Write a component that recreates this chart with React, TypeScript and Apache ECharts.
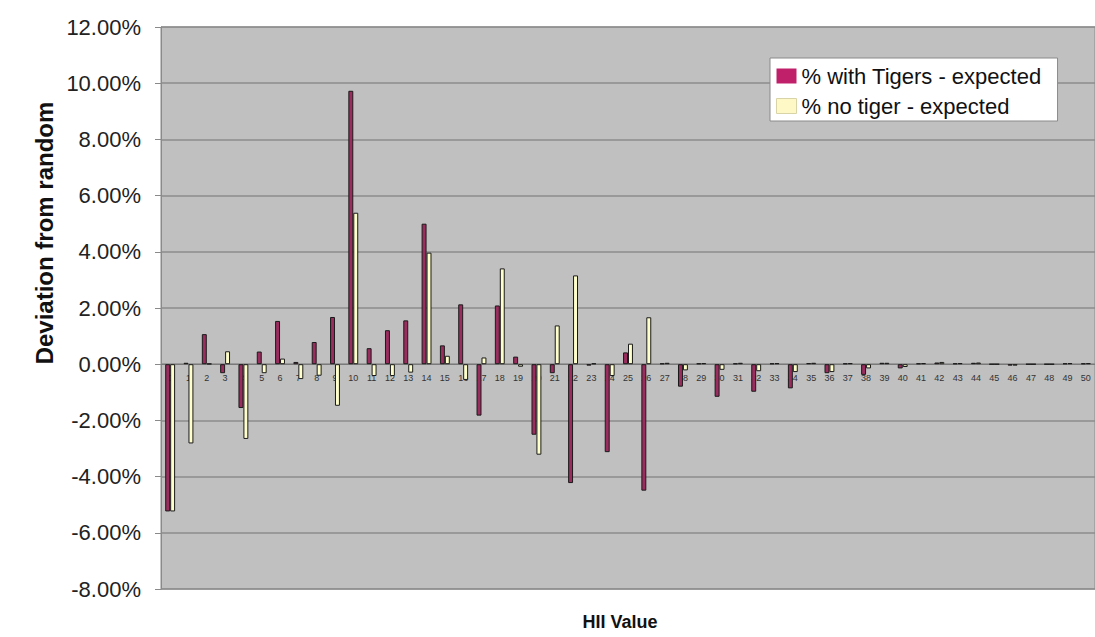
import React, { useEffect, useRef } from "react";
import * as echarts from "echarts";

const categories: string[] = [
  "0", "1", "2", "3", "4", "5", "6", "7", "8", "9",
  "10", "11", "12", "13", "14", "15", "16", "17", "18", "19",
  "20", "21", "22", "23", "24", "25", "26", "27", "28", "29",
  "30", "31", "32", "33", "34", "35", "36", "37", "38", "39",
  "40", "41", "42", "43", "44", "45", "46", "47", "48", "49", "50",
];

const withTigers: number[] = [
  -5.24, 0.05, 1.07, -0.32, -1.56, 0.45, 1.54, 0.08, 0.79, 1.68,
  9.73, 0.57, 1.21, 1.56, 5.0, 0.67, 2.13, -1.83, 2.09, 0.27,
  -2.51, -0.32, -4.23, -0.05, -3.13, 0.42, -4.5, 0.03, -0.8, 0.03,
  -1.16, 0.03, -0.98, 0.03, -0.86, 0.04, -0.32, 0.03, -0.38, 0.05,
  -0.15, 0.03, 0.06, 0.03, 0.05, 0, -0.05, 0, 0, 0.03, 0.03,
];

const noTiger: number[] = [
  -5.24, -2.82, 0.02, 0.46, -2.66, -0.32, 0.2, -0.53, -0.41, -1.48,
  5.39, -0.42, -0.42, -0.3, 3.97, 0.3, -0.56, 0.24, 3.41, -0.09,
  -3.22, 1.38, 3.16, 0.03, -0.42, 0.73, 1.67, 0.05, -0.22, 0.04,
  -0.2, 0.05, -0.25, 0.04, -0.28, 0.05, -0.28, 0.04, -0.15, 0.05,
  -0.1, 0.04, 0.08, 0.04, 0.06, 0, -0.05, 0, 0, 0.04, 0.04,
];

const seriesNames: string[] = ["% with Tigers - expected", "% no tiger - expected"];

const yTitle = "Deviation from random";
const xTitle = "HII Value";

const Y_MIN = -8;
const Y_MAX = 12;
const GRID_TOP = 27;
const GRID_HEIGHT = 562;

export default function App() {
  const ref = useRef<HTMLDivElement>(null);

  useEffect(() => {
    if (!ref.current) return;
    const chart = echarts.init(ref.current, null, { renderer: "svg" });
    const font = "'Liberation Sans', Arial, sans-serif";
    // distance from bottom of plot to zero line, so category labels sit on the zero line
    const zeroOffset = -(GRID_HEIGHT * (0 - Y_MIN)) / (Y_MAX - Y_MIN);
    chart.setOption({
      animation: false,
      backgroundColor: "#ffffff",
      textStyle: { fontFamily: font },
      grid: {
        left: 161,
        top: GRID_TOP,
        width: 943,
        height: GRID_HEIGHT,
        show: true,
        backgroundColor: "#c0c0c0",
        borderColor: "#8a8a8a",
        borderWidth: 1,
        containLabel: false,
      },
      legend: {
        orient: "vertical",
        left: 770,
        top: 58,
        padding: [7, 16, 4, 6],
        itemWidth: 20,
        itemHeight: 15,
        itemGap: 8,
        backgroundColor: "#ffffff",
        borderColor: "#8a8a8a",
        borderWidth: 1,
        textStyle: { fontSize: 22, color: "#111", fontFamily: font },
        data: [
          { name: seriesNames[0], icon: "rect", itemStyle: { color: "#c0206a", borderColor: "#c0206a", borderWidth: 0 } },
          { name: seriesNames[1], icon: "rect", itemStyle: { color: "#fdf8c6", borderColor: "#d8d4a8", borderWidth: 1 } },
        ],
      },
      xAxis: {
        type: "category",
        data: categories,
        position: "bottom",
        offset: zeroOffset,
        axisLine: { show: true, onZero: false, lineStyle: { color: "#7a7a7a", width: 1 } },
        axisTick: { show: false },
        axisLabel: { interval: 0, fontSize: 9, color: "#333", margin: 9, fontFamily: font },
        splitLine: { show: false },
      },
      yAxis: {
        type: "value",
        min: Y_MIN,
        max: Y_MAX,
        interval: 2,
        axisLine: { show: true, lineStyle: { color: "#8a8a8a" } },
        axisTick: { show: true, length: 6, lineStyle: { color: "#8a8a8a" } },
        axisLabel: {
          fontSize: 22,
          color: "#222",
          margin: 20,
          fontFamily: font,
          formatter: (v: number) => v.toFixed(2) + "%",
        },
        splitLine: { show: true, lineStyle: { color: "#8c8c8c", width: 1.5 } },
      },
      series: [
        {
          name: seriesNames[0],
          type: "bar",
          data: withTigers,
          barWidth: "27%",
          barGap: "0%",
          itemStyle: { color: "#9a2d5e", borderColor: "#1a1a1a", borderWidth: 1 },
        },
        {
          name: seriesNames[1],
          type: "bar",
          data: noTiger,
          barWidth: "27%",
          barGap: "0%",
          itemStyle: { color: "#ffffcc", borderColor: "#1a1a1a", borderWidth: 1 },
        },
      ],
      graphic: [
        {
          type: "text",
          x: 44,
          y: 233,
          rotation: Math.PI / 2,
          style: {
            text: yTitle,
            fontSize: 24,
            fontWeight: "bold",
            fontFamily: font,
            fill: "#111",
            textAlign: "center",
            textVerticalAlign: "middle",
          },
        },
        {
          type: "text",
          x: 620,
          y: 622,
          style: {
            text: xTitle,
            fontSize: 18,
            fontWeight: "bold",
            fontFamily: font,
            fill: "#111",
            textAlign: "center",
            textVerticalAlign: "middle",
          },
        },
      ],
    });
    return () => chart.dispose();
  }, []);

  return (
    <div
      ref={ref}
      style={{ position: "fixed", left: 0, top: 0, width: 1095, height: 637 }}
    />
  );
}
